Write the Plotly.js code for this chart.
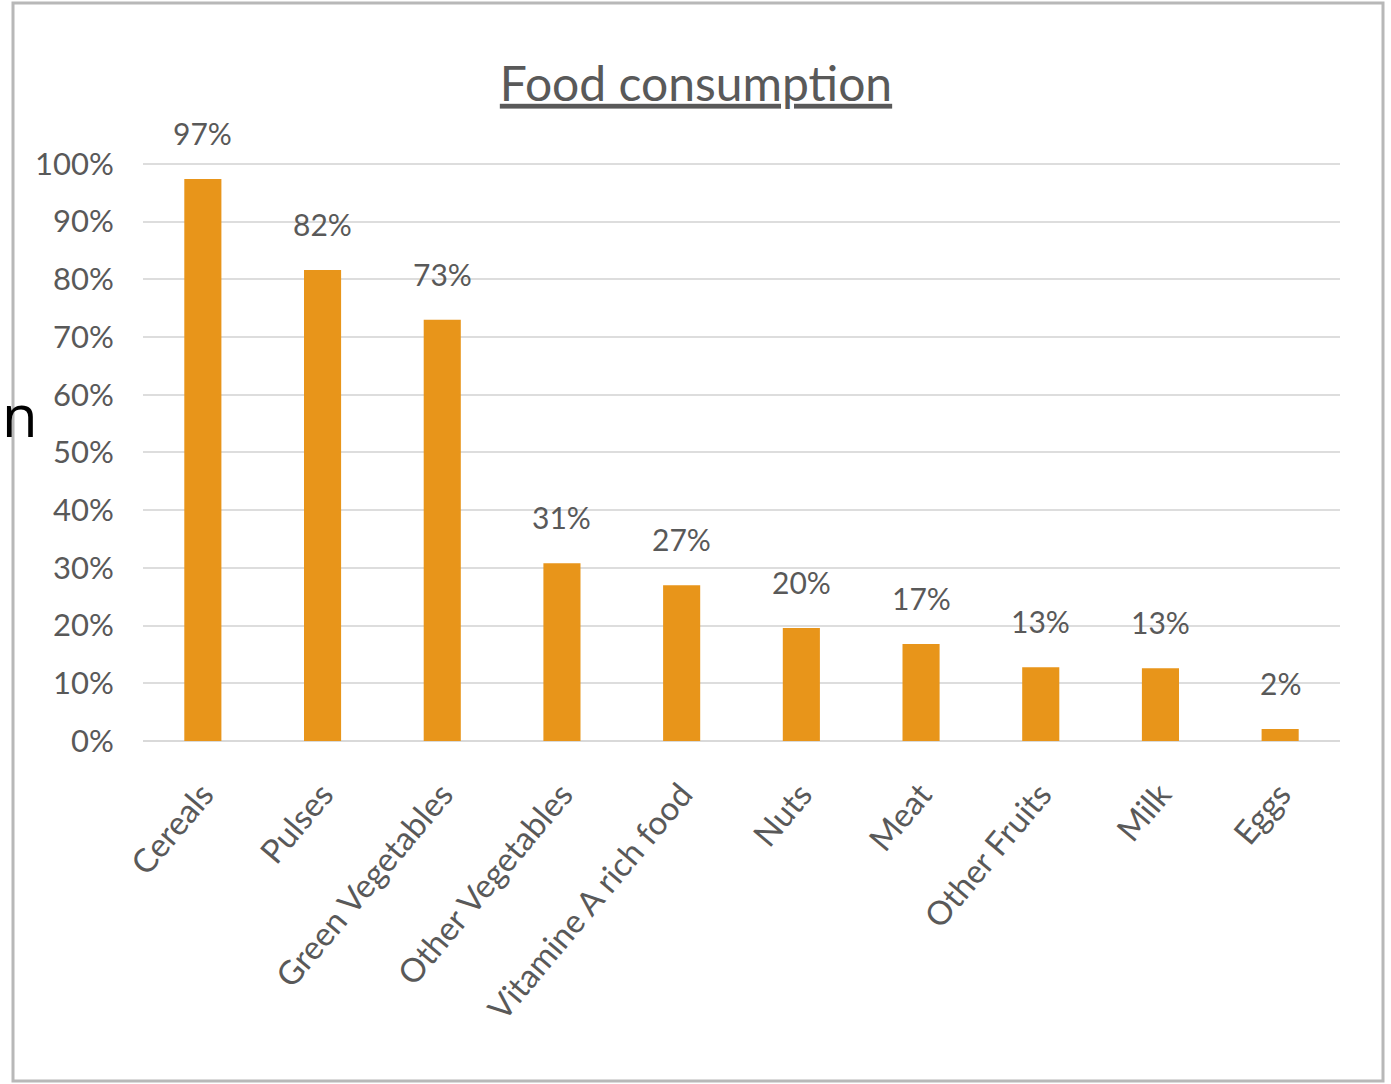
<!DOCTYPE html>
<html>
<head>
<meta charset="utf-8">
<script src="https://cdn.plot.ly/plotly-3.0.1.min.js"></script>
<style>html,body{margin:0;padding:0;background:#fff;}#chart{width:1391px;height:1084px;}</style>
</head>
<body>
<div id="chart"></div>
<script>
const categories = ["Cereals","Pulses","Green Vegetables","Other Vegetables","Vitamine A rich food","Nuts","Meat","Other Fruits","Milk","Eggs"];
const values = [0.974,0.816,0.73,0.308,0.27,0.196,0.168,0.128,0.126,0.021];
const yTickVals = [0,0.1,0.2,0.3,0.4,0.5,0.6,0.7,0.8,0.9,1.0];
const yTickText = ["0%","10%","20%","30%","40%","50%","60%","70%","80%","90%","100%"];
const chartTitle = "Food consumption";

const W = 1391, H = 1084;
const yTop = 1.005;
const mL = 143, mR = 51, mT = 161, mB = 343;
const pw = W - mL - mR, ph = H - mT - mB;
const px = x => (x - mL) / pw;
const py = y => (H - mB - y) / ph;

const textColor = "#595959";
const font = "Lato, 'Open Sans', sans-serif";

const annotations = categories.map((c, i) => ({
  x: c, y: values[i], xref: "x", yref: "y",
  text: Math.round(values[i] * 100) + "%",
  showarrow: false, yanchor: "middle", yshift: 46,
  font: {family: font, size: 30, color: textColor}
}));
annotations.push({
  xref: "paper", yref: "paper", x: px(0), y: py(414),
  xanchor: "left", yanchor: "middle", text: "n", showarrow: false,
  font: {family: "'Open Sans', sans-serif", size: 58, color: "#000"}
});

const trace = {
  type: "bar", x: categories, y: values,
  marker: {color: "#E8951A"},
  hoverinfo: "skip"
};

const layout = {
  width: W, height: H,
  margin: {l: mL, r: mR, t: mT, b: mB, pad: 0},
  paper_bgcolor: "#fff", plot_bgcolor: "#fff",
  bargap: 0.69,
  showlegend: false,
  title: {
    text: "<u>" + chartTitle + "</u>",
    x: 696 / W, xref: "container", xanchor: "center",
    y: 1 - 84 / H, yref: "container", yanchor: "middle",
    font: {family: font, size: 48, color: textColor}
  },
  xaxis: {
    type: "category",
    tickangle: -50,
    tickfont: {family: font, size: 33, color: textColor},
    ticks: "outside", ticklen: 20, tickcolor: "rgba(0,0,0,0)",
    showline: false, showgrid: false, zeroline: false
  },
  yaxis: {
    range: [0, yTop],
    tickvals: yTickVals, ticktext: yTickText,
    tickfont: {family: font, size: 31, color: textColor},
    ticks: "outside", ticklen: 22, tickcolor: "rgba(0,0,0,0)",
    showgrid: true, gridcolor: "#DDDDDD", gridwidth: 2,
    zeroline: true, zerolinecolor: "#D9D9D9", zerolinewidth: 2,
    showline: false
  },
  annotations: annotations,
  shapes: [{
    type: "rect", xref: "paper", yref: "paper",
    x0: px(13), x1: px(1383), y0: py(1081), y1: py(3),
    line: {color: "#B8B8B8", width: 3}, fillcolor: "rgba(0,0,0,0)", layer: "above"
  }]
};

Plotly.newPlot("chart", [trace], layout, {displayModeBar: false, staticPlot: true});
</script>
</body>
</html>
